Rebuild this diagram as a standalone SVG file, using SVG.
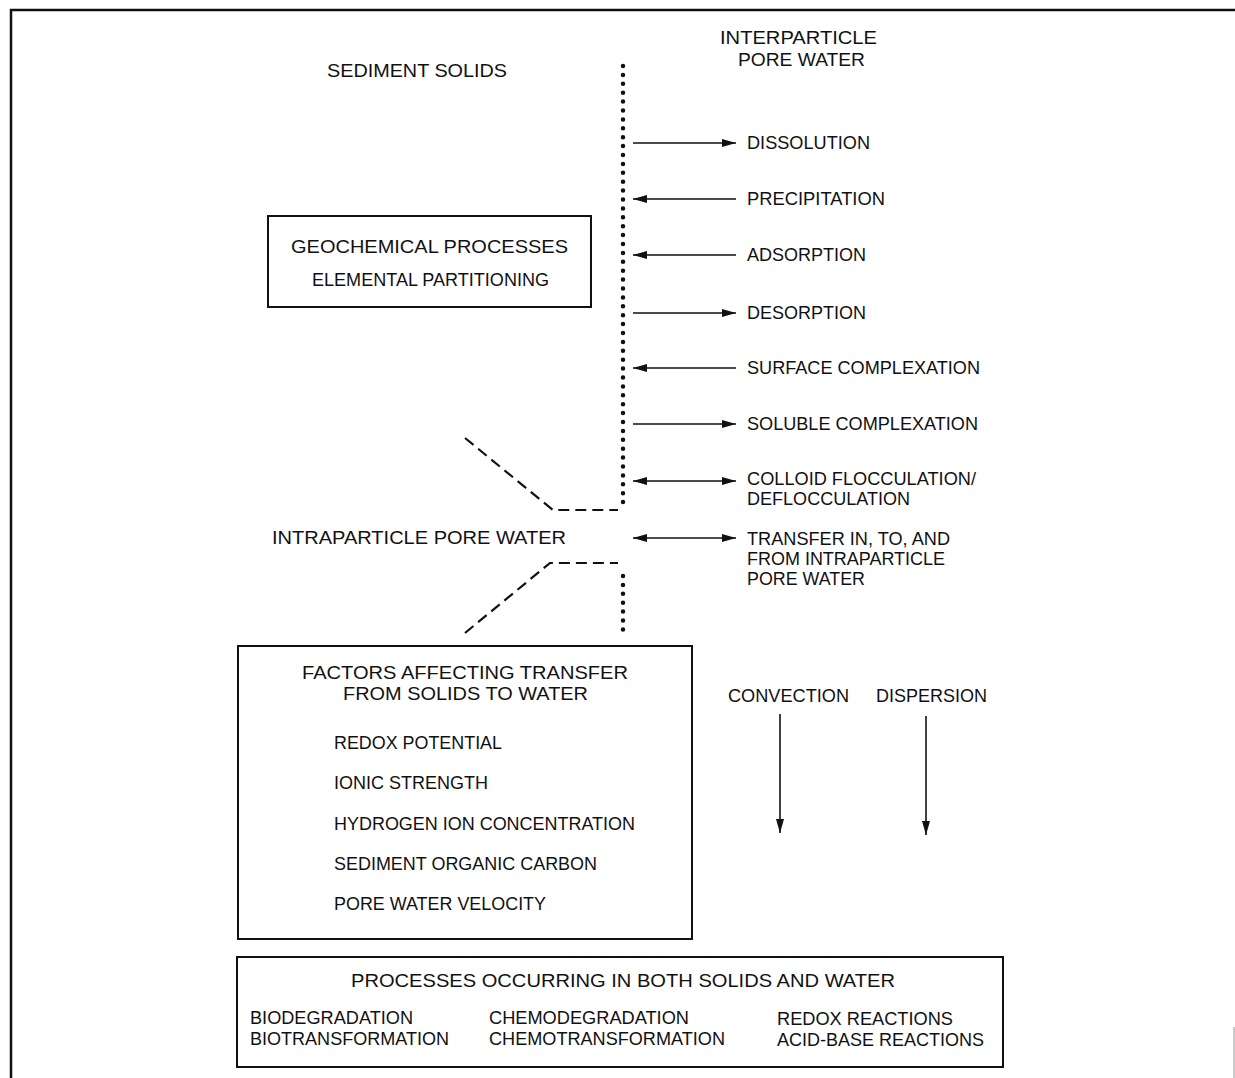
<svg xmlns="http://www.w3.org/2000/svg" width="1235" height="1078" viewBox="0 0 1235 1078">
<style>
text{font-family:"Liberation Sans",Arial,sans-serif;font-size:18px;fill:#111}
.box{fill:none;stroke:#111;stroke-width:2}
.arr{stroke:#111;stroke-width:1.6;fill:none}
.dot{stroke:#111;stroke-width:4.5;stroke-linecap:round;stroke-dasharray:0 8.9;fill:none}
.dash{stroke:#111;stroke-width:2.2;stroke-dasharray:11 6;fill:none}
</style>
<defs>
<marker id="ah" viewBox="0 0 14 8" refX="14" refY="4" markerWidth="14" markerHeight="8" markerUnits="userSpaceOnUse" orient="auto-start-reverse">
<path d="M0,0 L14,4 L0,8 Z" fill="#111"/>
</marker>
</defs>
<rect width="1235" height="1078" fill="#fff"/>
<g id="frame">
<line x1="10" y1="10" x2="1235" y2="10" stroke="#111" stroke-width="2.5"/>
<line x1="11" y1="9" x2="11" y2="1078" stroke="#111" stroke-width="2.5"/>
<line x1="1234" y1="1027" x2="1234" y2="1078" stroke="#999" stroke-width="1"/>
</g>
<g id="labels">
<text x="720" y="44" textLength="157" lengthAdjust="spacingAndGlyphs">INTERPARTICLE</text>
<text x="738" y="66" textLength="127" lengthAdjust="spacingAndGlyphs">PORE WATER</text>
<text x="327" y="77" textLength="180" lengthAdjust="spacingAndGlyphs">SEDIMENT SOLIDS</text>
<text x="272" y="544" textLength="294" lengthAdjust="spacingAndGlyphs">INTRAPARTICLE PORE WATER</text>
</g>
<g id="boundary">
<line class="dot" x1="623" y1="66" x2="623" y2="510"/>
<line class="dot" x1="623" y1="576" x2="623" y2="630"/>
<polyline class="dash" points="465,438 553,510 618,510"/>
<polyline class="dash" points="465,633 550,563 618,563"/>
</g>
<g id="geochemical">
<rect class="box" x="268" y="216" width="323" height="91"/>
<text x="291" y="253" textLength="277" lengthAdjust="spacingAndGlyphs">GEOCHEMICAL PROCESSES</text>
<text x="312" y="286" textLength="237" lengthAdjust="spacingAndGlyphs">ELEMENTAL PARTITIONING</text>
</g>
<g id="processes-list">
<text x="747" y="149" textLength="123" lengthAdjust="spacingAndGlyphs">DISSOLUTION</text>
<text x="747" y="205" textLength="138" lengthAdjust="spacingAndGlyphs">PRECIPITATION</text>
<text x="747" y="261" textLength="119" lengthAdjust="spacingAndGlyphs">ADSORPTION</text>
<text x="747" y="319" textLength="119" lengthAdjust="spacingAndGlyphs">DESORPTION</text>
<text x="747" y="374" textLength="233" lengthAdjust="spacingAndGlyphs">SURFACE COMPLEXATION</text>
<text x="747" y="430" textLength="231" lengthAdjust="spacingAndGlyphs">SOLUBLE COMPLEXATION</text>
<text x="747" y="485" textLength="229" lengthAdjust="spacingAndGlyphs">COLLOID FLOCCULATION/</text>
<text x="747" y="505" textLength="163" lengthAdjust="spacingAndGlyphs">DEFLOCCULATION</text>
<text x="747" y="545" textLength="203" lengthAdjust="spacingAndGlyphs">TRANSFER IN, TO, AND</text>
<text x="747" y="565" textLength="198" lengthAdjust="spacingAndGlyphs">FROM INTRAPARTICLE</text>
<text x="747" y="585" textLength="118" lengthAdjust="spacingAndGlyphs">PORE WATER</text>
</g>
<g id="connectors">
<line class="arr" x1="633" y1="143" x2="736" y2="143" marker-end="url(#ah)"/>
<line class="arr" x1="736" y1="199" x2="633" y2="199" marker-end="url(#ah)"/>
<line class="arr" x1="736" y1="255" x2="633" y2="255" marker-end="url(#ah)"/>
<line class="arr" x1="633" y1="313" x2="736" y2="313" marker-end="url(#ah)"/>
<line class="arr" x1="736" y1="368" x2="633" y2="368" marker-end="url(#ah)"/>
<line class="arr" x1="633" y1="424" x2="736" y2="424" marker-end="url(#ah)"/>
<line class="arr" x1="633" y1="481" x2="736" y2="481" marker-start="url(#ah)" marker-end="url(#ah)"/>
<line class="arr" x1="633" y1="538" x2="736" y2="538" marker-start="url(#ah)" marker-end="url(#ah)"/>
<line class="arr" x1="780" y1="714" x2="780" y2="833" marker-end="url(#ah)"/>
<line class="arr" x1="926" y1="716" x2="926" y2="835" marker-end="url(#ah)"/>
</g>
<g id="transport">
<text x="728" y="702" textLength="121" lengthAdjust="spacingAndGlyphs">CONVECTION</text>
<text x="876" y="702" textLength="111" lengthAdjust="spacingAndGlyphs">DISPERSION</text>
</g>
<g id="factors">
<rect class="box" x="238" y="646" width="454" height="293"/>
<text x="302" y="679" textLength="326" lengthAdjust="spacingAndGlyphs">FACTORS AFFECTING TRANSFER</text>
<text x="343" y="700" textLength="245" lengthAdjust="spacingAndGlyphs">FROM SOLIDS TO WATER</text>
<text x="334" y="749" textLength="168" lengthAdjust="spacingAndGlyphs">REDOX POTENTIAL</text>
<text x="334" y="789" textLength="154" lengthAdjust="spacingAndGlyphs">IONIC STRENGTH</text>
<text x="334" y="830" textLength="301" lengthAdjust="spacingAndGlyphs">HYDROGEN ION CONCENTRATION</text>
<text x="334" y="870" textLength="263" lengthAdjust="spacingAndGlyphs">SEDIMENT ORGANIC CARBON</text>
<text x="334" y="910" textLength="212" lengthAdjust="spacingAndGlyphs">PORE WATER VELOCITY</text>
</g>
<g id="both">
<rect class="box" x="237" y="957" width="766" height="110"/>
<text x="351" y="987" textLength="544" lengthAdjust="spacingAndGlyphs">PROCESSES OCCURRING IN BOTH SOLIDS AND WATER</text>
<text x="250" y="1024" textLength="163" lengthAdjust="spacingAndGlyphs">BIODEGRADATION</text>
<text x="250" y="1045" textLength="199" lengthAdjust="spacingAndGlyphs">BIOTRANSFORMATION</text>
<text x="489" y="1024" textLength="200" lengthAdjust="spacingAndGlyphs">CHEMODEGRADATION</text>
<text x="489" y="1045" textLength="236" lengthAdjust="spacingAndGlyphs">CHEMOTRANSFORMATION</text>
<text x="777" y="1025" textLength="176" lengthAdjust="spacingAndGlyphs">REDOX REACTIONS</text>
<text x="777" y="1046" textLength="207" lengthAdjust="spacingAndGlyphs">ACID-BASE REACTIONS</text>
</g>
</svg>
